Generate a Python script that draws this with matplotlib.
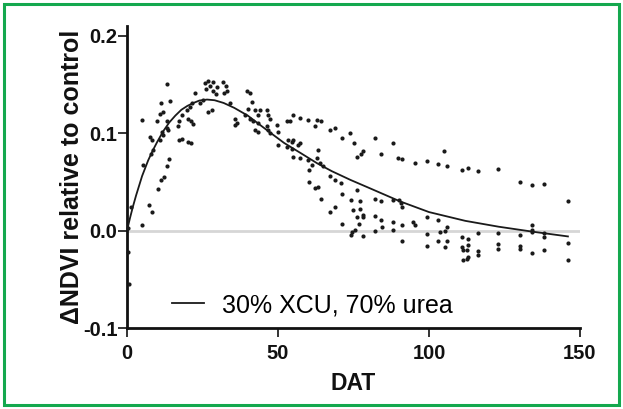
import numpy as np
import matplotlib
matplotlib.use("Agg")
from matplotlib import pyplot as plt
from matplotlib.patches import Rectangle

plt.rcParams['font.family'] = ['Liberation Sans', 'DejaVu Sans']
plt.rcParams['axes.unicode_minus'] = False

dat = [0.3, 0.5, 0.4, 1.2,
       13.1, 11.2, 14.2, 5.1, 10.0, 10.9, 12.0, 13.1, 13.1, 11.5, 7.6, 8.2, 10.9, 12.0, 13.7,
       17.3, 18.1, 20.3, 21.1, 17.0, 17.3, 18.1, 20.3, 21.1, 22.0, 19.8, 20.9, 21.4, 22.5,
       24.2, 25.3, 26.9, 28.0, 25.8, 26.9, 27.5, 26.2, 28.4, 29.5, 29.7, 28.6, 31.9, 32.8,
       33.0, 32.1, 34.1, 35.8, 36.3, 8.7, 7.9, 14.0, 5.4,
       13.1, 12.4, 11.2, 10.2, 7.3, 8.4, 5.1,
       39.6, 40.7, 41.3, 40.2, 42.4, 44.0, 46.3, 35.8, 39.1, 40.7, 41.8, 43.5, 43.3, 46.8,
       47.4, 42.4, 43.3, 46.3, 46.8, 47.4, 49.6, 50.1, 50.1, 52.9, 54.0, 55.1, 57.3, 53.4,
       54.5, 55.1, 52.9, 54.5, 56.7, 55.1, 57.3, 60.0, 62.8, 64.2, 62.3, 60.0, 62.8, 63.3,
       61.2, 63.9, 65.0, 67.2, 68.9, 71.1, 73.8, 57.3,
       60.3, 60.3, 62.3, 63.3, 67.2, 68.9, 70.9, 64.2, 67.2, 68.9, 71.1, 74.2, 74.9, 71.1, 74.2,
       75.2, 76.3, 78.0, 77.4, 82.1, 88.2, 84.1, 89.8, 90.9, 95.4, 99.2, 103.1, 106.1, 105.1,
       111.0, 113.0, 76.0, 77.2, 77.2, 78.3, 76.2, 78.0, 76.9, 74.4, 75.5, 78.0, 82.1, 84.0,
       82.1, 84.1, 82.1, 84.3, 88.2, 90.2, 90.6, 88.2, 91.0, 91.0, 88.2, 91.2, 94.8, 95.4,
       99.2, 99.2, 99.2, 103.1, 103.6, 103.1, 105.9, 105.3, 106.1, 105.3, 110.8, 110.8,
       112.5, 111.4, 112.5, 111.4,
       116.1, 123.0, 130.1, 134.0, 138.1, 145.9, 116.3, 123.0, 130.1, 134.0, 134.0, 134.0,
       138.1, 138.1, 113.0, 113.0, 113.0, 116.1, 116.1, 123.0, 123.0, 130.1, 130.1, 134.0,
       138.1, 145.9, 145.9]
dndvi = [-0.022, -0.055, 0.003, 0.024,
         0.150, 0.131, 0.133, 0.114, 0.112, 0.120, 0.122, 0.105, 0.112, 0.101, 0.096, 0.093, 0.093, 0.098, 0.103,
         0.093, 0.094, 0.091, 0.090, 0.107, 0.112, 0.119, 0.115, 0.112, 0.109, 0.124, 0.127, 0.131, 0.141,
         0.131, 0.134, 0.122, 0.124, 0.151, 0.154, 0.148, 0.145, 0.143, 0.140, 0.147, 0.153, 0.153, 0.148,
         0.143, 0.141, 0.131, 0.115, 0.110, 0.083, 0.079, 0.073, 0.067,
         0.066, 0.055, 0.052, 0.043, 0.026, 0.019, 0.006,
         0.143, 0.141, 0.132, 0.125, 0.124, 0.124, 0.124, 0.108, 0.119, 0.115, 0.112, 0.110, 0.119, 0.119,
         0.115, 0.103, 0.101, 0.107, 0.103, 0.100, 0.108, 0.101, 0.088, 0.112, 0.112, 0.119, 0.116, 0.093,
         0.091, 0.093, 0.086, 0.084, 0.088, 0.076, 0.074, 0.113, 0.113, 0.112, 0.107, 0.072, 0.074, 0.083,
         0.067, 0.069, 0.066, 0.103, 0.105, 0.095, 0.100, 0.090,
         0.062, 0.050, 0.044, 0.045, 0.056, 0.052, 0.049, 0.032, 0.019, 0.024, 0.038, 0.031, 0.021, 0.007, -0.005,
         0.090, 0.076, 0.082, 0.079, 0.095, 0.090, 0.079, 0.074, 0.073, 0.069, 0.071, 0.068, 0.066, 0.082,
         0.062, 0.064, 0.042, 0.030, 0.022, 0.016, 0.014, 0.014, 0.007, -0.001, 0.001, -0.006, 0.032, 0.030,
         0.015, 0.011, 0.000, 0.004, 0.031, 0.031, 0.028, 0.009, 0.006, 0.024, 0.001, -0.011, 0.009, 0.006,
         0.014, -0.003, -0.016, 0.011, -0.001, -0.011, 0.004, 0.000, -0.011, -0.017, -0.007, -0.017,
         -0.029, -0.030, -0.020, -0.020,
         0.061, 0.063, 0.050, 0.047, 0.048, 0.030, -0.002, -0.002, -0.005, 0.006, 0.001, -0.001,
         -0.002, -0.007, -0.009, -0.015, -0.027, -0.021, -0.025, -0.014, -0.019, -0.016, -0.019, -0.023,
         -0.020, -0.013, -0.030]

# fitted curve
fit_x = [0, 1, 2, 3, 4, 5, 6, 7, 8.5, 10, 12, 14, 16, 18, 20, 22, 24, 26.5, 29, 32,
         35.5, 40, 46.8, 52, 57.8, 63, 67.8, 74, 80, 90.4, 100, 112, 123, 134, 146]
fit_y = [0.0, 0.013, 0.025, 0.036, 0.046, 0.056, 0.064, 0.072, 0.082, 0.091, 0.102,
         0.111, 0.118, 0.124, 0.128, 0.131, 0.1335, 0.1345, 0.1338, 0.131,
         0.126, 0.118, 0.102, 0.090, 0.079, 0.069, 0.061, 0.052, 0.044, 0.030, 0.019,
         0.010, 0.004, -0.001, -0.006]

xticks = [0, 50, 100, 150]
yticks = [-0.1, 0.0, 0.1, 0.2]
ytick_labels = ['-0.1', '0.0', '0.1', '0.2']

fig = plt.figure(figsize=(6.23, 4.09), dpi=100)
ax = fig.add_axes([127 / 623, 81 / 409, 453 / 623, 302 / 409])

ax.axhline(0, color='#d6d6d6', lw=2, zorder=1)
ax.scatter(dat, dndvi, s=9, color='#1a1a1a', linewidths=0, zorder=3, clip_on=False)
ax.plot(fit_x, fit_y, color='#1a1a1a', lw=1.3, zorder=4, label='30% XCU, 70% urea')

ax.set_xlim(0, 150)
ax.set_ylim(-0.1, 0.21)
ax.set_xticks(xticks)
ax.set_yticks(yticks)
ax.set_yticklabels(ytick_labels)

for s in ['top', 'right']:
    ax.spines[s].set_visible(False)
for s in ['left', 'bottom']:
    ax.spines[s].set_linewidth(2)
    ax.spines[s].set_color('#111111')
ax.tick_params(axis='both', direction='out', length=6.2, width=1.2, color='#111111',
               labelsize=14.5, labelcolor='#111111')
ax.tick_params(axis='x', pad=5)
ax.tick_params(axis='y', pad=0.8)
for lab in ax.get_xticklabels() + ax.get_yticklabels():
    lab.set_fontweight('bold')

ax.set_xlabel('DAT', fontsize=16.5, fontweight='bold', color='#111111')
ax.set_ylabel('\u0394NDVI relative to control', fontsize=18, fontweight='bold', color='#111111')
ax.xaxis.set_label_coords(0.5, -0.145)
ax.yaxis.set_label_coords(-0.095, 0.5)

ax.legend(loc='center left', bbox_to_anchor=(0.099, 0.076), frameon=False,
          borderaxespad=0, borderpad=0, handlelength=1.3, handletextpad=0.7,
          prop={'size': 18})

fig.patches.append(Rectangle((4 / 623, 4 / 409), 615 / 623, 401 / 409, fill=False,
                             edgecolor='#14a84e', lw=2.2, transform=fig.transFigure))

fig.savefig('out.png', dpi=100)
